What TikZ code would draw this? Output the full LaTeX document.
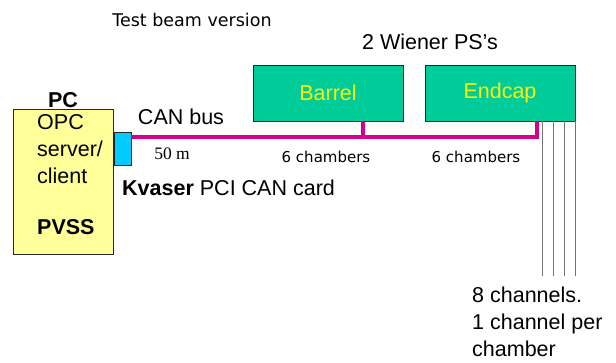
\documentclass[tikz,border=0pt]{standalone}
\usepackage{fontspec}
\setmainfont{Liberation Sans}
\newfontfamily\comicfont{DejaVu Sans}
\newfontfamily\serifnum{Liberation Serif}
\usetikzlibrary{positioning}

\definecolor{pcyellow}{RGB}{255,255,153}
\definecolor{cardcyan}{RGB}{0,204,255}
\definecolor{psgreen}{RGB}{0,204,153}
\definecolor{busmagenta}{RGB}{212,0,140}

\begin{document}
\begin{tikzpicture}[x=1pt,y=-1pt]

\tikzstyle{pc} = [draw=black!85, fill=pcyellow, line width=0.8pt, inner sep=0pt]
\tikzstyle{card} = [draw=black!85, fill=cardcyan, line width=0.8pt, inner sep=0pt]
\tikzstyle{ps} = [draw=black!85, fill=psgreen, line width=0.8pt, text=yellow,
  minimum width=150pt, minimum height=56pt, inner sep=0pt,
  font=\fontsize{21.5}{24}\selectfont]
\tikzstyle{bus} = [draw=busmagenta, line width=4.5pt]
\tikzstyle{chan} = [draw=black!55, line width=1.5pt]
\tikzstyle{lbl} = [inner sep=0pt, font=\fontsize{21.5}{27}\selectfont]
\tikzstyle{cmc} = [inner sep=0pt, font=\comicfont\fontsize{15}{18}\selectfont]

\useasboundingbox (0,0) rectangle (616,363);

\node[pc, minimum width=100pt, minimum height=145pt, anchor=north west] (pcbox) at (13,109) {};
\node[card, minimum width=17pt, minimum height=33pt, anchor=north west] (kvcard) at (113.5,132) {};
\node[ps] (barrel) at (328,93) {Barrel};
\node[ps] (endcap) at (500,93) {Endcap};

% bus and channels
\coordinate (busend) at (537,137);
\draw[bus] (kvcard.east |- busend) -- (busend) -- (busend |- endcap.south);
\draw[bus] ([xshift=35pt]barrel.south) -- ([xshift=35pt]barrel.south |- busend);
\foreach \i in {0,...,3}
  \draw[chan] ([xshift=-\i*11pt]endcap.south east) -- ++(0,155);

% labels
\node[lbl, font=\bfseries\fontsize{21.5}{24}\selectfont] (pclabel) at (63,100) {PC};
\node[lbl, align=left, anchor=north west] (opc) at (37,114) {OPC\\server/\\client};
\node[lbl, font=\bfseries\fontsize{21.5}{24}\selectfont, anchor=west] (pvss) at (37,227) {PVSS};
\node[lbl] (canbus) at (181,117) {CAN bus};
\node[inner sep=0pt, font=\serifnum\fontsize{17.5}{20}\selectfont] (length) at (172,154) {50 m};
\node[lbl, anchor=west] (kvaser) at (122,188) {\textbf{Kvaser} PCI CAN card};
\node[cmc, font=\comicfont\fontsize{17.5}{20}\selectfont] (tbv) at (192,20) {Test beam version};
\node[lbl] (wiener) at (430,42) {2 Wiener PS’s};
\node[cmc] (chb) at (326,157) {6 chambers};
\node[cmc] (che) at (476,157) {6 chambers};
\node[lbl, align=left, anchor=north west] (nchan) at (472,287) {8 channels.\\1 channel per\\chamber};

\end{tikzpicture}
\end{document}
